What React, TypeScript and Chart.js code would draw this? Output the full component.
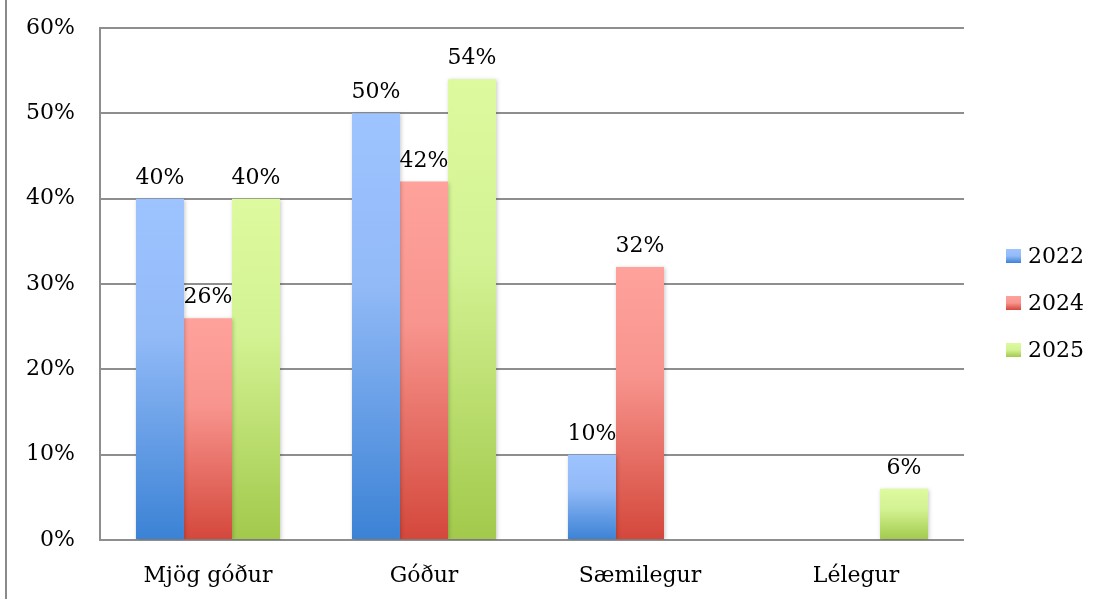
import React, { useEffect, useRef } from "react";
import { Chart, registerables } from "chart.js";

Chart.register(...registerables);

const categories = ["Mjög góður", "Góður", "Sæmilegur", "Lélegur"];
const seriesNames = ["2022", "2024", "2025"];
const values2022: (number | null)[] = [40, 50, 10, null];
const values2024: (number | null)[] = [26, 42, 32, null];
const values2025: (number | null)[] = [40, 54, null, 6];
const yMin = 0;
const yMax = 60;
const yStep = 10;

const palettes = [
  { top: "#9EC4FF", mid: "#92BAF7", bottom: "#3B82D5" },
  { top: "#FFA29C", mid: "#F7948D", bottom: "#D4473B" },
  { top: "#DDFB9E", mid: "#D3F293", bottom: "#A2C94B" },
];

const FONT = "'DejaVu Serif', serif";

function barFill(ctx: any, idx: number) {
  const p = palettes[idx];
  const chart = ctx.chart;
  if (ctx.type !== "data" || ctx.raw == null || !chart.scales || !chart.scales.y) return p.mid;
  const ys = chart.scales.y;
  const top = ys.getPixelForValue(ctx.raw);
  const bottom = ys.getPixelForValue(0);
  if (!isFinite(top) || !isFinite(bottom) || top === bottom) return p.mid;
  const g = chart.ctx.createLinearGradient(0, top, 0, bottom);
  g.addColorStop(0, p.top);
  g.addColorStop(0.4, p.mid);
  g.addColorStop(1, p.bottom);
  return g;
}

const framePlugin = {
  id: "frame",
  beforeDraw(chart: any) {
    const c = chart.ctx;
    c.save();
    c.fillStyle = "#8a8a8a";
    c.fillRect(5, 0, 2, chart.height);
    c.restore();
  },
};

const shadowPlugin = {
  id: "barShadow",
  beforeDatasetsDraw(chart: any) {
    const c = chart.ctx;
    c.save();
    c.shadowColor = "rgba(0,0,0,0.22)";
    c.shadowBlur = 4;
    c.shadowOffsetX = 1;
    c.shadowOffsetY = 1;
  },
  afterDatasetsDraw(chart: any) {
    chart.ctx.restore();
  },
};

const labelPlugin = {
  id: "valueLabels",
  afterDraw(chart: any) {
    const c = chart.ctx;
    c.save();
    c.font = `22px ${FONT}`;
    c.fillStyle = "#000";
    c.textAlign = "center";
    c.textBaseline = "alphabetic";
    chart.data.datasets.forEach((ds: any, i: number) => {
      const meta = chart.getDatasetMeta(i);
      meta.data.forEach((bar: any, j: number) => {
        const v = ds.data[j];
        if (v == null || v === 0) return;
        c.fillText(`${v}%`, bar.x, bar.y - 15);
      });
    });
    c.restore();
  },
};

const legendPlugin = {
  id: "customLegend",
  afterDraw(chart: any) {
    const c = chart.ctx;
    c.save();
    c.font = `22px ${FONT}`;
    c.fillStyle = "#000";
    c.textAlign = "left";
    c.textBaseline = "middle";
    const centers = [256, 303, 350];
    seriesNames.forEach((name, i) => {
      const cy = centers[i];
      const p = palettes[i];
      const g = c.createLinearGradient(0, cy - 7, 0, cy + 7);
      g.addColorStop(0, p.top);
      g.addColorStop(0.5, p.mid);
      g.addColorStop(1, p.bottom);
      c.fillStyle = g;
      c.fillRect(1006, cy - 7, 15, 14);
      c.fillStyle = "#000";
      c.fillText(name, 1028, cy + 1);
    });
    c.restore();
  },
};

export default function App() {
  const ref = useRef<HTMLCanvasElement | null>(null);

  useEffect(() => {
    if (!ref.current) return;
    Chart.defaults.font.family = FONT;
    Chart.defaults.font.size = 22;
    Chart.defaults.color = "#000";
    const seriesValues = [values2022, values2024, values2025];
    const chart = new Chart(ref.current, {
      type: "bar",
      data: {
        labels: categories,
        datasets: seriesNames.map((name, i) => ({
          label: name,
          data: seriesValues[i],
          backgroundColor: (ctx: any) => barFill(ctx, i),
          borderWidth: 0,
          categoryPercentage: 0.667,
          barPercentage: 1.0,
        })),
      },
      options: {
        animation: false,
        responsive: true,
        maintainAspectRatio: false,
        layout: { padding: { left: 0, right: 135, top: 28, bottom: 0 } },
        plugins: {
          legend: { display: false },
          tooltip: { enabled: false },
        },
        scales: {
          x: {
            grid: { display: false, drawTicks: false },
            border: { display: false },
            ticks: { padding: 23, font: { size: 22, family: FONT }, color: "#000" },
            afterFit: (s: any) => {
              s.height = 59;
              s.paddingLeft = 0;
              s.paddingRight = 0;
            },
          },
          y: {
            min: yMin,
            max: yMax,
            grid: { color: "#8e8e8e", lineWidth: 2, drawTicks: false },
            border: { display: true, color: "#8e8e8e", width: 2 },
            ticks: {
              stepSize: yStep,
              padding: 25,
              font: { size: 22, family: FONT },
              color: "#000",
              callback: (v: any) => `${v}%`,
            },
            afterFit: (s: any) => {
              s.width = 100;
              s.paddingTop = 0;
              s.paddingBottom = 0;
            },
          },
        },
      },
      plugins: [framePlugin, shadowPlugin, labelPlugin, legendPlugin],
    });
    return () => chart.destroy();
  }, []);

  return (
    <div style={{ position: "fixed", left: 0, top: 0, width: 1099, height: 599, background: "#fff" }}>
      <canvas ref={ref} />
    </div>
  );
}
